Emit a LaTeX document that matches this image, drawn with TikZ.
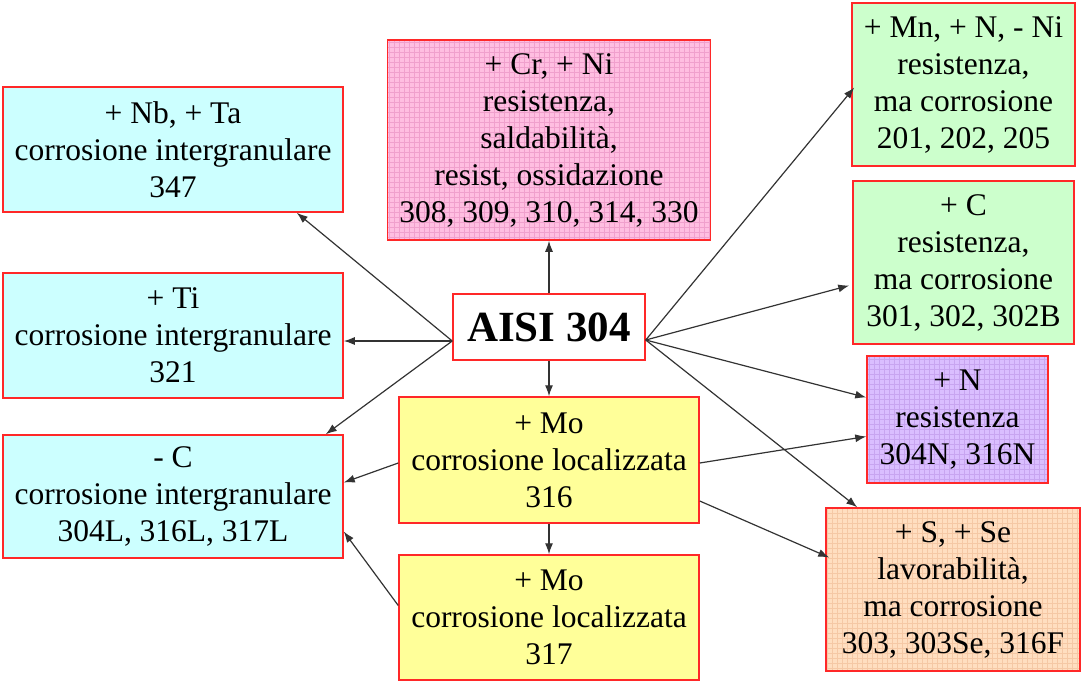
\documentclass[tikz,border=0pt]{standalone}
\usepackage{fontspec}
\setmainfont{Liberation Serif}
\definecolor{boxred}{RGB}{255,40,40}
\definecolor{lightcyan}{RGB}{204,255,255}
\definecolor{lightgreen}{RGB}{204,255,204}
\definecolor{lightyellow}{RGB}{255,255,153}
\definecolor{pinkfill}{RGB}{255,190,225}
\definecolor{pinkline}{RGB}{240,160,205}
\definecolor{lilacfill}{RGB}{218,190,255}
\definecolor{lilacline}{RGB}{200,165,240}
\definecolor{peachfill}{RGB}{255,222,192}
\definecolor{peachline}{RGB}{245,200,165}
\usetikzlibrary{arrows.meta}
\begin{document}
\begin{tikzpicture}[x=1pt,y=-1pt,
    steelbox/.style={draw=boxred,line width=1.5pt,inner sep=0pt,align=center,
      font=\fontsize{31.5}{37}\selectfont},
    gridbox/.style={steelbox,fill=#1fill,path picture={
      \draw[#1line,line width=0.5pt] (path picture bounding box.south west)
        grid[step=5pt] (path picture bounding box.north east);}},
    link/.style={draw=black!80,line width=1.2pt,-{Latex[length=11pt,width=8pt]}}]
    \useasboundingbox (0,0) rectangle (1081,681);
    % centre
    \node [steelbox,fill=white,minimum width=192pt,minimum height=66pt,
      font=\fontsize{43}{50}\selectfont\bfseries] (aisi) at (549,327) {AISI 304};
    \coordinate (aisiL) at ([yshift=-14pt]aisi.west);
    \coordinate (aisiR) at ([yshift=-13pt]aisi.east);
    % left column
    \node [steelbox,fill=lightcyan,minimum width=340pt,minimum height=125pt] (nbta) at (173,149.5)
      {+ Nb, + Ta\\corrosione intergranulare\\347};
    \node [steelbox,fill=lightcyan,minimum width=340pt,minimum height=125pt] (ti) at (173,335.5)
      {+ Ti\\corrosione intergranulare\\321};
    \node [steelbox,fill=lightcyan,minimum width=340pt,minimum height=123pt] (lowc) at (173,496.5)
      {- C\\corrosione intergranulare\\304L, 316L, 317L};
    % middle column
    \node [gridbox=pink,minimum width=323pt,minimum height=200pt] (crni) at (549,140)
      {+ Cr, + Ni\\resistenza,\\saldabilità,\\resist, ossidazione\\308, 309, 310, 314, 330};
    \node [steelbox,fill=lightyellow,minimum width=300pt,minimum height=126pt] (mo316) at (549,460)
      {+ Mo\\corrosione localizzata\\316};
    \node [steelbox,fill=lightyellow,minimum width=300pt,minimum height=125pt] (mo317) at (549,617.5)
      {+ Mo\\corrosione localizzata\\317};
    % right column
    \node [steelbox,fill=lightgreen,minimum width=223pt,minimum height=163pt] (mnn) at (963.5,84.5)
      {+ Mn, + N, - Ni\\resistenza,\\ma corrosione\\201, 202, 205};
    \node [steelbox,fill=lightgreen,minimum width=221pt,minimum height=163pt] (plusc) at (963.5,262.5)
      {+ C\\resistenza,\\ma corrosione\\301, 302, 302B};
    \node [gridbox=lilac,minimum width=181pt,minimum height=127pt] (plusn) at (957.5,419.5)
      {+ N\\resistenza\\304N, 316N};
    \node [gridbox=peach,minimum width=254pt,minimum height=163pt] (sse) at (953,589.5)
      {+ S, + Se\\lavorabilità,\\ma corrosione\\303, 303Se, 316F};
    % arrows
    \draw [link] (aisiL) -- ([xshift=-47pt]nbta.south east);
    \draw [link] (aisiL) -- (ti.east |- aisiL);
    \draw [link] (aisiL) -- ([xshift=-18pt]lowc.north east);
    \draw [link] (aisi.north) -- (crni.south);
    \draw [link] (aisi.south) -- (mo316.north);
    \draw [link] (aisiR) -- ([xshift=3pt,yshift=-3pt]mnn.west);
    \draw [link] (aisiR) -- ([xshift=-3pt,yshift=-23pt]plusc.west);
    \draw [link] (aisiR) -- ([yshift=22pt]plusn.west);
    \draw [link] (aisiR) -- ([xshift=32pt]sse.north west);
    \draw [link] ([yshift=-3pt]mo316.west) -- ([yshift=14pt]lowc.east);
    \draw [link] ([yshift=-3pt]mo316.east) -- ([yshift=-17pt]plusn.west);
    \draw [link] ([yshift=-41pt]mo316.east) -- ([xshift=4pt,yshift=32pt]sse.west);
    \draw [link] (mo316.south) -- (mo317.north);
    \draw [link] ([yshift=12pt]mo317.west) -- ([yshift=-35pt]lowc.east);
\end{tikzpicture}
\end{document}
